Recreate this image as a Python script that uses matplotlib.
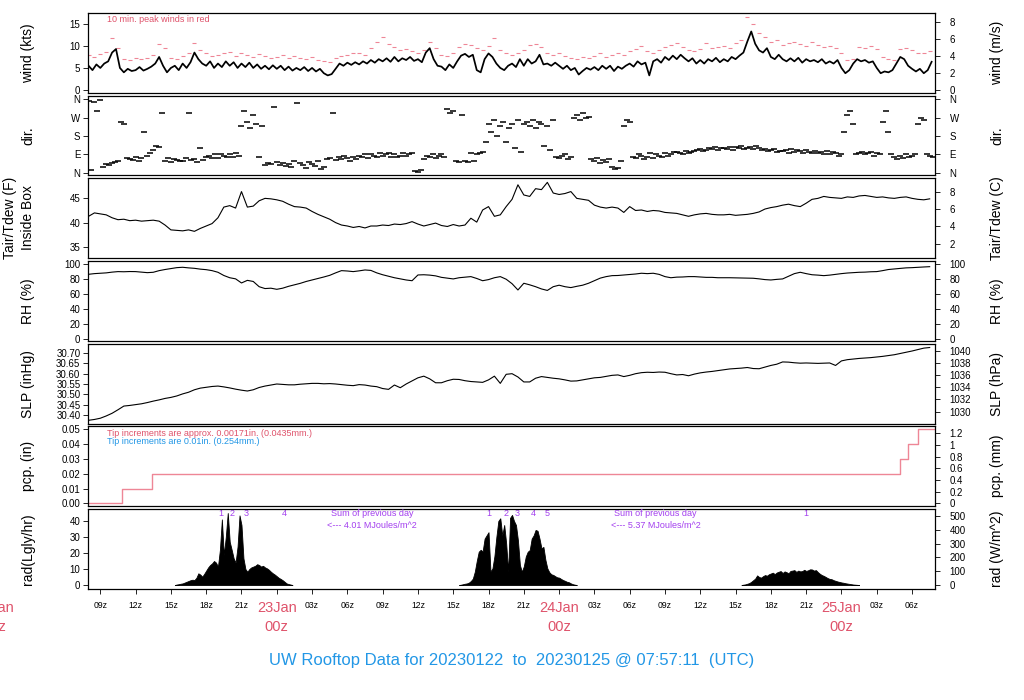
import numpy as np
import matplotlib.pyplot as plt
from matplotlib.transforms import blended_transform_factory

plt.rcParams['font.family'] = ['Liberation Sans', 'DejaVu Sans']

# hours since 00z 22 Jan 2023
t_start, t_end = 7.953, 79.953

# wind speed (kts), every 20 minutes from 08z
wind_kts = [5.5, 4.5, 5.8, 5.0, 6.0, 6.5, 8.5, 9.3, 5.0, 4.0, 4.8, 4.3,
            4.5, 5.2, 4.4, 4.8, 5.3, 6.0, 7.5, 5.5, 4.0, 5.0, 5.5, 4.5,
            6.0, 5.0, 6.3, 8.5, 7.0, 6.0, 5.5, 6.5, 5.0, 6.0, 5.2, 6.5,
            5.5, 6.3, 5.0, 6.0, 5.2, 6.2, 5.0, 5.8, 4.8, 5.5, 4.7, 5.6,
            4.8, 5.5, 4.5, 5.3, 4.4, 5.0, 4.5, 5.2, 4.3, 5.0, 4.2, 4.8,
            3.8, 3.3, 3.6, 4.8, 6.0, 5.5, 6.2, 5.7, 6.3, 5.8, 6.5, 6.0,
            6.8, 6.2, 7.0, 6.5, 7.2, 6.4, 7.5, 6.5, 7.2, 6.8, 7.5, 6.6,
            7.0, 6.3, 8.5, 9.5, 7.0, 5.5, 5.3, 4.5, 5.8, 5.0, 6.5, 7.8,
            8.2, 7.5, 8.0, 4.5, 4.0, 7.0, 8.3, 7.5, 6.0, 5.0, 4.5, 5.5,
            6.0, 5.2, 7.0, 5.5, 7.0, 6.0, 6.5, 8.0, 5.8, 6.0, 5.5, 6.2,
            5.5, 4.8, 5.5, 4.5, 5.0, 3.5, 4.3, 5.0, 4.6, 5.2, 4.5, 5.5,
            4.8, 5.5, 4.3, 5.3, 4.8, 5.5, 6.0, 5.3, 6.5, 5.8, 6.2, 3.3,
            6.5, 7.0, 6.2, 7.5, 6.8, 7.8, 7.0, 8.0, 7.2, 6.5, 7.2, 6.0,
            6.8, 6.0, 7.0, 6.5, 7.3, 6.3, 7.0, 6.5, 7.5, 7.0, 7.8, 8.5,
            11.0, 13.3, 10.5, 9.0, 8.5, 9.5, 7.5, 7.0, 8.0, 7.0, 6.5, 7.2,
            6.5, 7.3, 6.2, 7.0, 6.5, 6.8, 6.3, 7.0, 6.0, 6.5, 6.0, 6.8,
            5.0, 3.8, 4.5, 6.0, 7.0, 6.5, 6.8, 6.2, 6.5, 5.0, 3.8, 4.2,
            4.0, 4.5, 6.0, 7.5, 7.0, 5.5, 4.8, 4.2, 4.8, 3.8, 4.5, 6.4]

# 10 min peak winds (kts), every 30 minutes from 08z
gust_kts = [8.0, 7.5, 8.2, 8.7, 11.7, 9.5, 7.0, 6.8, 7.3, 7.0, 7.2, 8.0,
            10.5, 9.5, 7.3, 7.0, 7.8, 8.3, 10.6, 9.0, 8.3, 7.8, 8.0, 8.5,
            8.7, 7.8, 8.3, 8.0, 7.5, 8.2, 7.8, 7.3, 7.5, 8.0, 7.2, 7.8,
            7.3, 7.0, 7.5, 6.8, 6.5, 6.3, 7.3, 7.8, 8.0, 8.5, 8.3, 8.0,
            9.5, 11.0, 12.0, 10.5, 9.8, 9.0, 9.3, 8.8, 8.5, 9.0, 10.8, 9.5,
            8.0, 7.8, 8.5, 9.8, 10.5, 10.2, 9.5, 9.0, 10.0, 11.7, 9.0, 8.3,
            8.0, 8.3, 9.0, 10.2, 10.5, 9.8, 8.5, 8.0, 8.3, 7.8, 7.3, 7.0,
            7.5, 7.2, 7.8, 8.3, 7.5, 8.0, 8.5, 8.0, 8.8, 9.3, 10.0, 8.8,
            8.5, 9.0, 9.8, 10.2, 10.6, 9.8, 9.0, 8.8, 9.3, 10.6, 9.5, 9.8,
            10.0, 9.5, 10.6, 11.4, 16.7, 15.0, 13.0, 12.0, 11.0, 11.4, 10.2, 10.6,
            11.0, 10.5, 10.0, 10.8, 10.2, 9.8, 10.0, 9.5, 8.5, 6.8, 7.0, 9.8,
            9.5, 10.0, 9.2, 7.5, 7.0, 6.8, 9.2, 9.5, 9.0, 8.5, 8.3, 8.8]

# wind direction (deg), every 15 minutes from 08z
dir_deg = [350, 15, 345, 300, 355, 30, 45, 40, 50, 55, 60, 250,
           240, 75, 70, 65, 80, 60, 75, 200, 85, 95, 110, 130,
           128, 290, 60, 75, 55, 70, 65, 60, 60, 75, 290, 65,
           70, 55, 120, 65, 80, 85, 75, 90, 75, 90, 85, 80,
           90, 80, 95, 85, 230, 300, 250, 220, 280, 240, 80, 230,
           40, 50, 45, 320, 55, 40, 50, 35, 45, 30, 60, 340,
           50, 40, 25, 55, 45, 35, 60, 20, 30, 70, 75, 290,
           65, 80, 70, 85, 75, 60, 80, 70, 85, 80, 90, 75,
           90, 85, 80, 95, 85, 90, 95, 80, 90, 80, 85, 95,
           85, 90, 95, 10, 5, 15, 70, 85, 80, 90, 75, 85,
           90, 80, 310, 290, 300, 60, 55, 280, 60, 55, 95, 60,
           90, 95, 100, 150, 240, 200, 260, 180, 230, 250, 150, 220,
           240, 120, 260, 100, 240, 250, 230, 260, 220, 250, 240, 130,
           230, 110, 260, 80, 75, 85, 90, 70, 80, 270, 280, 260,
           290, 270, 275, 70, 60, 75, 50, 65, 55, 70, 30, 20,
           25, 60, 230, 260, 250, 80, 75, 90, 85, 70, 80, 95,
           75, 90, 85, 80, 95, 85, 90, 100, 100, 95, 90, 105,
           95, 100, 105, 110, 115, 105, 110, 120, 115, 125, 110, 120,
           120, 115, 125, 110, 125, 120, 130, 115, 120, 125, 115, 130,
           120, 110, 115, 105, 110, 115, 100, 105, 105, 110, 95, 115,
           100, 110, 105, 95, 110, 100, 95, 105, 95, 100, 90, 105,
           90, 100, 95, 85, 90, 200, 280, 300, 240, 90, 95, 100,
           90, 95, 100, 85, 95, 90, 250, 300, 200, 90, 80, 70,
           85, 75, 90, 80, 85, 90, 240, 270, 260, 90, 85, 80]

# inside box air temperature (F), every 30 minutes from 08z
tair_f = [41.3, 42.0, 41.8, 41.6, 41.0, 40.6, 40.7, 40.4, 40.5, 40.3, 40.4, 40.5,
          40.3, 39.5, 38.5, 38.4, 38.3, 38.5, 38.2, 38.8, 39.3, 39.8, 41.0, 43.2,
          43.5, 43.0, 46.4, 43.2, 43.4, 44.5, 45.0, 44.9, 44.7, 44.4, 43.8, 43.3,
          43.2, 43.0, 42.3, 41.7, 41.2, 40.7, 40.0, 39.5, 39.3, 39.0, 39.2, 38.9,
          39.3, 39.3, 39.5, 39.4, 39.7, 39.6, 39.8, 40.2, 39.7, 39.3, 39.6, 39.9,
          39.4, 39.2, 39.6, 39.3, 39.5, 40.9, 40.1, 42.6, 43.3, 41.3, 41.6, 43.3,
          44.8, 47.8, 45.7, 45.4, 47.0, 46.8, 48.3, 46.1, 45.8, 46.0, 46.4, 45.0,
          44.8, 44.6, 43.6, 43.2, 43.0, 43.2, 43.0, 42.1, 43.3, 42.5, 42.6, 42.3,
          42.5, 42.4, 42.1, 42.0, 41.9, 41.6, 41.3, 41.6, 41.8, 41.9, 41.7, 41.6,
          41.6, 41.7, 41.5, 41.6, 41.7, 41.9, 42.2, 42.8, 43.1, 43.3, 43.6, 43.8,
          43.5, 43.3, 44.0, 44.8, 45.0, 45.4, 45.2, 45.1, 45.0, 45.3, 45.2, 45.5,
          45.6, 45.4, 45.2, 45.3, 45.1, 45.0, 45.2, 45.3, 45.0, 44.8, 44.7, 44.9]

# relative humidity (%), every 30 minutes from 08z
rh_pct = [86.6, 87.5, 88.0, 88.5, 89.5, 90.2, 90.0, 90.3, 90.2, 89.5, 88.8, 89.3,
          91.5, 93.0, 94.2, 95.5, 96.0, 95.2, 94.6, 93.5, 92.8, 91.5, 89.3, 85.0,
          82.0, 80.5, 75.0, 78.5, 77.0, 70.0, 67.5, 68.0, 66.5, 68.0, 70.5, 72.5,
          74.5, 77.0, 79.0, 81.0, 83.0, 85.2, 88.5, 91.5, 91.0, 90.2, 91.2, 92.4,
          91.8, 88.5, 86.0, 84.0, 82.0, 80.5, 79.0, 78.0, 85.7, 86.0, 85.5, 84.5,
          82.5, 81.5, 80.4, 82.0, 82.8, 83.5, 81.0, 78.0, 79.5, 82.0, 83.5, 80.0,
          74.0, 65.6, 74.6, 72.5, 70.0, 67.0, 65.0, 70.0, 72.0, 70.0, 68.8, 70.5,
          72.0, 74.6, 78.0, 81.5, 83.5, 84.8, 85.0, 85.7, 86.5, 87.0, 88.0, 87.5,
          88.0, 86.5, 83.5, 82.0, 82.8, 83.0, 83.5, 83.5, 83.0, 82.5, 82.5, 82.0,
          82.0, 82.0, 81.8, 81.5, 81.5, 81.3, 80.5, 79.5, 79.0, 79.8, 80.4, 84.0,
          87.5, 89.3, 87.5, 86.0, 85.5, 84.8, 85.5, 86.5, 87.5, 88.3, 88.8, 89.3,
          89.5, 90.0, 90.2, 91.5, 93.0, 93.8, 94.5, 95.2, 95.5, 96.0, 96.4, 96.8]

# sea level pressure (inHg), every 30 minutes from 08z
slp_inhg = [30.374, 30.378, 30.384, 30.395, 30.408, 30.425, 30.443, 30.446, 30.450, 30.454, 30.460, 30.467,
            30.473, 30.480, 30.485, 30.492, 30.502, 30.510, 30.522, 30.530, 30.534, 30.538, 30.540, 30.536,
            30.531, 30.525, 30.520, 30.516, 30.522, 30.533, 30.540, 30.545, 30.550, 30.548, 30.546, 30.546,
            30.549, 30.551, 30.553, 30.553, 30.551, 30.552, 30.550, 30.547, 30.544, 30.542, 30.547, 30.545,
            30.540, 30.537, 30.528, 30.524, 30.545, 30.532, 30.550, 30.565, 30.580, 30.588, 30.575, 30.556,
            30.556, 30.566, 30.573, 30.572, 30.566, 30.562, 30.560, 30.558, 30.570, 30.588, 30.553, 30.597,
            30.600, 30.584, 30.560, 30.560, 30.578, 30.586, 30.582, 30.578, 30.575, 30.570, 30.564, 30.565,
            30.570, 30.575, 30.580, 30.582, 30.587, 30.592, 30.594, 30.586, 30.592, 30.600, 30.605, 30.607,
            30.606, 30.608, 30.607, 30.600, 30.594, 30.596, 30.590, 30.598, 30.604, 30.608, 30.611, 30.615,
            30.619, 30.623, 30.625, 30.627, 30.630, 30.625, 30.624, 30.632, 30.640, 30.646, 30.657, 30.656,
            30.653, 30.651, 30.652, 30.651, 30.650, 30.651, 30.652, 30.640, 30.662, 30.668, 30.671, 30.674,
            30.676, 30.678, 30.681, 30.684, 30.688, 30.692, 30.698, 30.704, 30.710, 30.717, 30.724, 30.727]

# accumulated precipitation (in), step changes
pcp_t = [7.953, 10.82, 13.37, 77.0, 77.7, 78.5, 79.953]
pcp_in = [0.0, 0.01, 0.02, 0.03, 0.04, 0.05, 0.05]

# solar radiation (Lgly/hr), every 10 minutes for each daylight period
rad_start = [15.333, 39.5, 63.5]
rad_day1 = [0, 0.3, 0.5, 0.8, 1.0, 1.5, 2.0, 2.5, 3.0, 3.3, 3.1, 4.5, 7.3, 6.5, 5.2, 7.0,
            9.0, 11.0, 12.5, 13.5, 15.0, 14.0, 11.5, 22.0, 41.0, 18.8, 30.0, 45.0, 27.0, 22.0,
            16.7, 14.0, 24.0, 43.5, 37.5, 16.7, 10.0, 8.3, 10.0, 11.0, 11.5, 12.0, 13.0, 12.5,
            11.5, 12.0, 11.0, 10.4, 9.5, 8.3, 7.3, 6.5, 5.5, 4.5, 3.8, 3.0, 2.0, 1.0, 0.6, 0.3, 0]
rad_day2 = [0, 0.2, 0.5, 0.8, 1.0, 1.5, 2.5, 4.0, 8.3, 15.0, 20.8, 22.0, 21.0, 29.0, 31.0,
            33.0, 8.3, 10.4, 18.0, 30.0, 40.0, 41.7, 31.0, 37.5, 26.0, 8.3, 42.0, 43.8, 40.0,
            37.5, 27.9, 12.5, 8.3, 11.7, 17.8, 20.8, 21.8, 29.0, 31.0, 34.4, 33.9, 29.0, 22.9,
            23.8, 15.8, 10.4, 8.0, 6.7, 6.3, 5.5, 4.8, 4.6, 3.8, 3.1, 2.6, 2.0, 1.7, 1.0, 0.5, 0.2, 0]
rad_day3 = [0, 0.2, 0.4, 0.8, 1.2, 2.0, 3.0, 4.0, 6.0, 5.0, 4.6, 5.5, 6.2, 5.8, 6.7, 7.2,
            7.7, 6.8, 7.8, 8.3, 8.7, 7.5, 8.5, 8.0, 7.3, 8.8, 9.0, 9.3, 8.2, 9.0, 8.5, 8.7,
            9.5, 8.8, 9.2, 9.8, 9.7, 9.0, 9.3, 8.0, 7.0, 6.2, 5.7, 5.0, 4.3, 3.8, 3.6, 3.0,
            2.6, 2.2, 1.9, 1.6, 1.4, 1.1, 0.9, 0.7, 0.5, 0.3, 0.2, 0.1, 0]
rad_hr_t = [19.26, 20.2, 21.4, 24.6, 42.05, 43.5, 44.43, 45.8, 46.98, 69.0]
rad_hr_lab = ['1', '2', '3', '4', '1', '2', '3', '4', '5', '1']
rad_sum_t = [32.1, 56.2]
rad_sum = ['4.01', '5.37']

day_t = [0, 24, 48, 72]
day_lab = ['22Jan', '23Jan', '24Jan', '25Jan']

pink = '#DF536B'
blue = '#2297E6'
purple = '#A33FEF'

fig = plt.figure(figsize=(10.24, 7.0), dpi=100)
W, H = 1024.0, 700.0
px_l, px_r = 88, 935
panels = [(13, 93), (96, 175), (178, 258), (261, 341), (344, 424), (426, 506), (509, 589)]
axes = []
for top, bot in panels:
    ax = fig.add_axes([px_l / W, 1 - bot / H, (px_r - px_l) / W, (bot - top) / H])
    ax.set_xlim(t_start, t_end)
    ax.tick_params(axis='x', bottom=False, labelbottom=False)
    ax.tick_params(axis='y', direction='out', length=3.5, width=0.6, labelsize=7, pad=2)
    for s in ax.spines.values():
        s.set_linewidth(0.9)
    axes.append(ax)


def right_axis(ax, f, finv, ticks, labels=None):
    sec = ax.secondary_yaxis('right', functions=(f, finv))
    sec.set_yticks(ticks)
    if labels is not None:
        sec.set_yticklabels(labels)
    sec.tick_params(direction='out', length=3.5, width=0.6, labelsize=7, pad=7)
    sec.spines['right'].set_visible(False)
    return sec


def side_labels(ax_i, left, right, xl=28):
    top, bot = panels[ax_i]
    yc = 1 - (top + bot) / 2 / H
    if left:
        fig.text(xl / W, yc, left, rotation=90, ha='center', va='center', fontsize=10)
    fig.text(997 / W, yc, right, rotation=90, ha='center', va='center', fontsize=10)


# wind speed
ax = axes[0]
t_w = 8.0 + np.arange(len(wind_kts)) / 3
t_g = 8.0 + np.arange(len(gust_kts)) * 0.5
ax.plot(t_g, gust_kts, ls='none', marker='_', ms=3.5, mew=0.8, color='#EE8696')
ax.plot(t_w, wind_kts, color='k', lw=1.25)
ax.set_ylim(-0.7, 17.5)
ax.set_yticks([0, 5, 10, 15])
right_axis(ax, lambda k: k * 0.514444, lambda m: m / 0.514444, [0, 2, 4, 6, 8])
ax.text(0.022, 0.925, '10 min. peak winds in red', transform=ax.transAxes,
        color=pink, fontsize=6.5, va='center')
side_labels(0, 'wind (kts)', 'wind (m/s)')

# wind direction
ax = axes[1]
t_d = 8.0 + np.arange(len(dir_deg)) * 0.25
ax.plot(t_d, dir_deg, ls='none', marker='_', ms=4.5, mew=1.1, color='k')
ax.set_ylim(-10, 375)
ax.set_yticks([0, 90, 180, 270, 360])
ax.set_yticklabels(['N', 'E', 'S', 'W', 'N'])
right_axis(ax, lambda d: d, lambda d: d, [0, 90, 180, 270, 360], ['N', 'E', 'S', 'W', 'N'])
side_labels(1, 'dir.', 'dir.')

# temperature
ax = axes[2]
t_h = 8.0 + np.arange(len(tair_f)) * 0.5
ax.plot(t_h, tair_f, color='k', lw=0.8)
ax.set_ylim(32.7, 49.2)
ax.set_yticks([35, 40, 45])
right_axis(ax, lambda f: (f - 32) * 5 / 9, lambda c: c * 9 / 5 + 32, [2, 4, 6, 8])
side_labels(2, 'Inside Box', 'Tair/Tdew (C)')
top, bot = panels[2]
fig.text(10 / W, 1 - (top + bot) / 2 / H, 'Tair/Tdew (F)', rotation=90,
         ha='center', va='center', fontsize=10)

# relative humidity
ax = axes[3]
ax.plot(t_h, rh_pct, color='k', lw=0.8)
ax.set_ylim(-2.7, 104.4)
ax.set_yticks(range(0, 101, 20))
right_axis(ax, lambda r: r, lambda r: r, list(range(0, 101, 20)))
side_labels(3, 'RH (%)', 'RH (%)')

# pressure
ax = axes[4]
ax.plot(t_h, slp_inhg, color='k', lw=0.8)
ax.set_ylim(30.356, 30.744)
slp_ticks = [30.40, 30.45, 30.50, 30.55, 30.60, 30.65, 30.70]
ax.set_yticks(slp_ticks)
ax.set_yticklabels(['%.2f' % v for v in slp_ticks])
right_axis(ax, lambda p: p * 33.8639, lambda h: h / 33.8639, list(range(1030, 1041, 2)))
side_labels(4, 'SLP (inHg)', 'SLP (hPa)')

# precipitation
ax = axes[5]
ax.plot(pcp_t, pcp_in, drawstyle='steps-post', color='#EE8696', lw=1.0)
ax.set_ylim(-0.0018, 0.0522)
pcp_ticks = [0.0, 0.01, 0.02, 0.03, 0.04, 0.05]
ax.set_yticks(pcp_ticks)
ax.set_yticklabels(['%.2f' % v for v in pcp_ticks])
mm_ticks = [0, 0.2, 0.4, 0.6, 0.8, 1.0, 1.2]
right_axis(ax, lambda i: i * 25.4, lambda m: m / 25.4, mm_ticks,
           ['0', '0.2', '0.4', '0.6', '0.8', '1', '1.2'])
ax.text(0.022, 0.91, 'Tip increments are approx. 0.00171in. (0.0435mm.)',
        transform=ax.transAxes, color=pink, fontsize=6.5, va='center')
ax.text(0.022, 0.81, 'Tip increments are 0.01in. (0.254mm.)',
        transform=ax.transAxes, color=blue, fontsize=6.5, va='center')
side_labels(5, 'pcp. (in)', 'pcp. (mm)')

# radiation
ax = axes[6]
for t0, vals in zip(rad_start, [rad_day1, rad_day2, rad_day3]):
    tt = t0 + np.arange(len(vals)) / 6
    ax.fill_between(tt, 0, vals, color='k', lw=0.6, zorder=3)
for tx, lab in zip(rad_hr_t, rad_hr_lab):
    ax.text(tx, 45.0, lab, color=purple, fontsize=6.5, ha='center', va='center', zorder=2)
for tx, s in zip(rad_sum_t, rad_sum):
    ax.text(tx, 44.4, 'Sum of previous day', color=purple, fontsize=6.5, ha='center', va='center')
    ax.text(tx, 37.0, '<--- %s MJoules/m^2' % s, color=purple, fontsize=6.5,
            ha='center', va='center')
ax.set_ylim(-2.5, 47.5)
ax.set_yticks([0, 10, 20, 30, 40])
right_axis(ax, lambda r: r * 11.622, lambda w: w / 11.622, list(range(0, 501, 100)))
side_labels(6, 'rad(Lgly/hr)', 'rad (W/m^2)')

hrs = list(range(9, 79, 3))
ax.set_xticks(hrs)
ax.set_xticklabels(['' if h % 24 == 0 else '%02dz' % (h % 24) for h in hrs])
ax.tick_params(axis='x', bottom=True, labelbottom=True, direction='out', length=3.5,
               width=0.6, labelsize=6.2, pad=5)
tr = blended_transform_factory(ax.transData, ax.transAxes)
for dt, dl in zip(day_t, day_lab):
    ax.text(dt, -0.24, dl, transform=tr, color=pink, fontsize=10.5, ha='center',
            va='center', clip_on=False)
    ax.text(dt, -0.475, '00z', transform=tr, color=pink, fontsize=10.5, ha='center',
            va='center', clip_on=False)

fig.text(0.5, 1 - 660 / H, 'UW Rooftop Data for 20230122  to  20230125 @ 07:57:11  (UTC)',
         color=blue, fontsize=12, ha='center', va='center')

fig.savefig('out.png', dpi=100)
